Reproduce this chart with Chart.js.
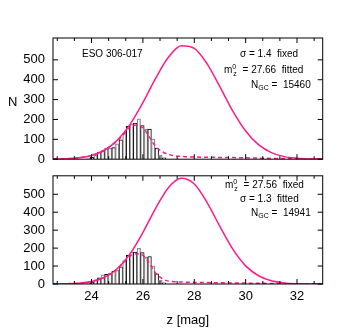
<!DOCTYPE html>
<html>
<head>
<meta charset="utf-8">
<script src="https://cdn.jsdelivr.net/npm/chart.js@4/dist/chart.umd.min.js"></script>
<style>
  body { margin: 0; background: #fff; width: 342px; height: 332px; position: relative; overflow: hidden;
         font-family: "Liberation Sans", Arial, sans-serif; }
  canvas { position: absolute; left: 0; }
  .t { position: absolute; font-size: 10px; line-height: 10px; color: #000; white-space: pre; }
  .s { position: relative; font-size: 7px; }
</style>
</head>
<body>
<canvas id="top" width="342" height="175" style="top:0"></canvas>
<canvas id="bot" width="342" height="172" style="top:160px"></canvas>

<div class="t" style="left:8px;top:95px;font-size:13px;line-height:13px">N</div>
<div class="t" style="left:82px;top:49px">ESO 306-017</div>
<div class="t" style="left:240px;top:49px">σ = 1.4  fixed</div>
<div class="t" style="left:224px;top:65px">m<span class="s" style="top:-4px">0</span><span class="s" style="top:3px;left:-3px">z</span> = 27.66  fitted</div>
<div class="t" style="left:251px;top:80px">N<span class="s" style="top:2px">GC</span> =  15460</div>

<div class="t" style="left:225px;top:180px">m<span class="s" style="top:-4px">0</span><span class="s" style="top:3px;left:-3px">z</span> = 27.56  fixed</div>
<div class="t" style="left:240px;top:194px">σ = 1.3  fitted</div>
<div class="t" style="left:251px;top:208px">N<span class="s" style="top:2px">GC</span> =  14941</div>

<script>
// histogram bin centres (mag)
const binCentres = [23.88, 24.02, 24.16, 24.30, 24.44, 24.58, 24.72, 24.86, 25.00, 25.14, 25.28,
                    25.42, 25.56, 25.70, 25.84, 25.98, 26.12, 26.26, 26.40, 26.54, 26.68, 26.82];

// counts per bin
const topCounts = [3, 9, 19, 36, 44, 54, 55, 58, 77, 98, 130, 165, 176, 182, 203, 169, 151, 152, 101, 56, 21, 7];
const botCounts = [5, 11, 23, 34, 51, 54, 59, 70, 77, 96, 130, 160, 178, 178, 199, 175, 148, 153, 101, 57, 21, 7];

// fitted gaussians, read at 0.5 mag steps
const curveX = [22.5, 23, 23.5, 24, 24.5, 25, 25.5, 26, 26.5, 27, 27.5, 28, 28.5, 29, 29.5, 30, 30.5, 31, 31.5, 32, 32.5, 33];
const topCurve = [0.6, 2.3, 7, 19, 45, 95, 175, 285, 408, 514, 571, 558, 480, 364, 242, 142, 73, 33, 13, 5, 1.5, 0.4];
const botCurve = [0.3, 1.3, 4.5, 14, 37, 85, 168, 287, 423, 538, 589, 557, 454, 320, 194, 101, 46, 18, 6, 1.7, 0.4, 0.1];

// gaussian x completeness (dashed)
const dashX = [22.5, 23, 23.5, 24, 24.5, 25, 25.25, 25.5, 25.75, 26, 26.25, 26.5, 26.75, 27, 27.5, 28, 29, 30, 31, 32, 33];
const topDash = [0.6, 2.3, 7, 19, 45, 93, 125, 162, 172, 158, 112, 64, 38, 24, 14, 11, 9, 7, 4, 2, 1];
const botDash = [0.3, 1.3, 4.5, 14, 37, 84, 120, 156, 168, 160, 116, 60, 30, 16, 11, 9, 7, 5, 3, 1.5, 0.5];

const xTicks = [24, 26, 28, 30, 32];
const yTicks = [0, 100, 200, 300, 400, 500];

const pink = "#ff1a8c";

const pts = (xs, ys) => xs.map((x, i) => ({ x: x, y: ys[i] }));

// gnuplot-like frame with inward ticks
const frameTicks = {
    id: "frameTicks",
    afterDraw(chart) {
        const { ctx, chartArea: a, scales: { x, y } } = chart;
        ctx.save();
        ctx.strokeStyle = "#000";
        ctx.lineWidth = 1;
        ctx.strokeRect(a.left, a.top, a.right - a.left, a.bottom - a.top);
        ctx.beginPath();
        for (let i = 1; i < 17; i++) {
            const v = 22 + i * 2 / 3;
            if (v < 22.5 || v > 33) continue;
            const len = i % 3 === 0 ? 5 : 3;
            const px = x.getPixelForValue(v);
            ctx.moveTo(px, a.bottom); ctx.lineTo(px, a.bottom - len);
            ctx.moveTo(px, a.top); ctx.lineTo(px, a.top + len);
        }
        yTicks.forEach(v => {
            const py = y.getPixelForValue(v);
            ctx.moveTo(a.left, py); ctx.lineTo(a.left + 5, py);
            ctx.moveTo(a.right, py); ctx.lineTo(a.right - 5, py);
        });
        ctx.stroke();
        ctx.restore();
    }
};

function makePanel(id, counts, curve, dash, yMax, showX) {
    const ctx = document.getElementById(id).getContext("2d");
    return new Chart(ctx, {
        type: "bar",
        data: {
            datasets: [
                {
                    type: "line",
                    data: pts(curveX, curve),
                    borderColor: pink,
                    borderWidth: 1.5,
                    pointRadius: 0,
                    cubicInterpolationMode: "monotone",
                    order: 0
                },
                {
                    type: "line",
                    data: pts(dashX, dash),
                    borderColor: pink,
                    borderWidth: 1.5,
                    borderDash: [4, 3],
                    pointRadius: 0,
                    cubicInterpolationMode: "monotone",
                    order: 0
                },
                {
                    data: pts(binCentres, counts),
                    backgroundColor: "#ffffff",
                    borderColor: counts.map((c, i) => i % 2 ? "#000000" : "#8c8c8c"),
                    borderWidth: counts.map((c, i) => i % 2 ? 1 : 1.3),
                    barPercentage: 1,
                    categoryPercentage: 1,
                    order: 1
                }
            ]
        },
        options: {
            responsive: false,
            animation: false,
            devicePixelRatio: 1,
            layout: { padding: showX ? { top: 10.7, left: 13, right: 19.3, bottom: 0 }
                                     : { top: 38, left: 13, right: 19.3, bottom: 0 } },
            plugins: { legend: { display: false }, tooltip: { enabled: false } },
            scales: {
                x: {
                    type: "linear",
                    min: 22.5,
                    max: 33,
                    offset: false,
                    grid: { display: false, drawTicks: false, offset: false },
                    border: { display: false },
                    afterBuildTicks: s => { s.ticks = xTicks.map(v => ({ value: v })); },
                    afterFit: s => { s.height = showX ? 48 : 14.3; },
                    ticks: {
                        display: showX,
                        color: "#000",
                        padding: 5,
                        maxRotation: 0,
                        font: { family: "Liberation Sans", size: 13 }
                    },
                    title: {
                        display: showX,
                        text: "z [mag]",
                        color: "#000",
                        padding: { top: 0, bottom: 4 },
                        font: { family: "Liberation Sans", size: 13 }
                    }
                },
                y: {
                    min: 0,
                    max: yMax,
                    grid: { display: false, drawTicks: false },
                    border: { display: false },
                    afterBuildTicks: s => { s.ticks = yTicks.map(v => ({ value: v })); },
                    afterFit: s => { s.width = 40; },
                    ticks: {
                        color: "#000",
                        padding: 8,
                        font: { family: "Liberation Sans", size: 13 }
                    }
                }
            }
        },
        plugins: [frameTicks]
    });
}

makePanel("top", topCounts, topCurve, topDash, 610, false);
makePanel("bot", botCounts, botCurve, botDash, 603, true);
</script>
</body>
</html>
